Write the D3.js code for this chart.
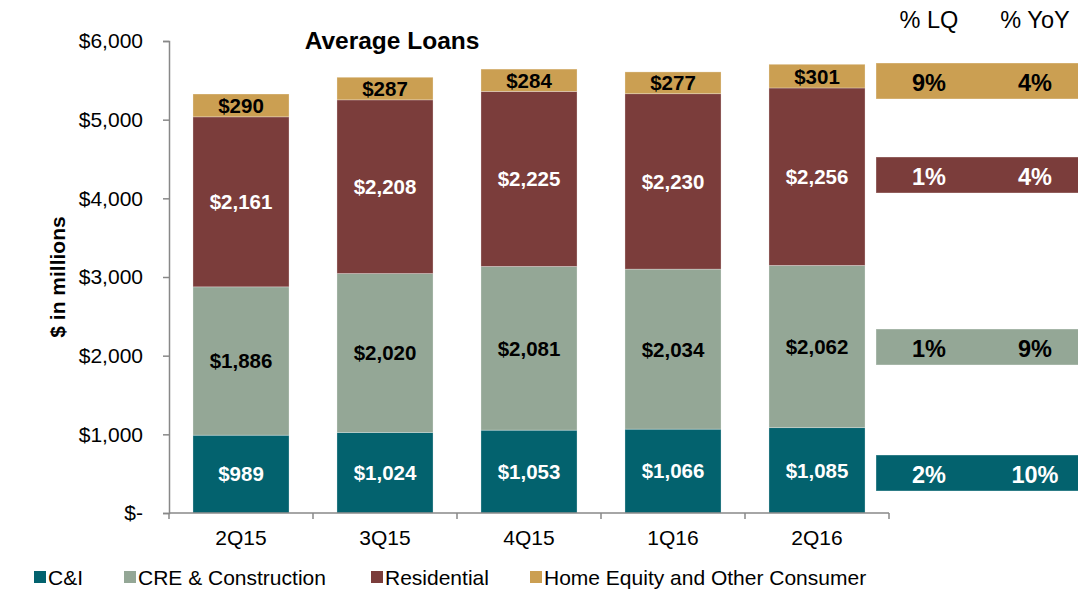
<!DOCTYPE html>
<html>
<head>
<meta charset="utf-8">
<script src="https://cdn.jsdelivr.net/npm/d3@7"></script>
<style>
  body { margin: 0; background: #fff; }
  svg { font-family: "Liberation Sans", Arial, sans-serif; }
</style>
</head>
<body>
<div id="chart"></div>
<script>
// Données
const quarters = ['2Q15', '3Q15', '4Q15', '1Q16', '2Q16'];
const cni = [989, 1024, 1053, 1066, 1085];
const cre = [1886, 2020, 2081, 2034, 2062];
const residential = [2161, 2208, 2225, 2230, 2256];
const homeEquity = [290, 287, 284, 277, 301];
const seriesNames = ['C&I', 'CRE & Construction', 'Residential', 'Home Equity and Other Consumer'];
const seriesColors = ['#03626e', '#94a796', '#7b3d3b', '#cb9f52'];
const labelColors = ['#fff', '#000', '#fff', '#000'];
const yTicks = [0, 1000, 2000, 3000, 4000, 5000, 6000];
const pctLQ = ['2%', '1%', '1%', '9%'];
const pctYoY = ['10%', '9%', '4%', '4%'];
const pctHeaders = ['% LQ', '% YoY'];

const width = 1078, height = 589;
const keys = ['cni', 'cre', 'res', 'he'];
const data = quarters.map((q, i) => ({ q, cni: cni[i], cre: cre[i], res: residential[i], he: homeEquity[i] }));

const svg = d3.select('#chart').append('svg')
  .attr('width', width).attr('height', height);

const x = d3.scaleBand().domain(quarters).range([169, 889]).paddingInner(0.333).paddingOuter(0.1665);
const y = d3.scaleLinear().domain([0, 6000]).range([513, 41]);
const color = d3.scaleOrdinal().domain(keys).range(seriesColors);

const stacked = d3.stack().keys(keys)(data);

// Barres
const serie = svg.selectAll('g.serie')
  .data(stacked)
  .enter().append('g')
  .attr('class', 'serie')
  .attr('fill', d => color(d.key));

serie.selectAll('rect')
  .data(d => d)
  .enter().append('rect')
  .attr('x', d => x(d.data.q))
  .attr('y', d => y(d[1]))
  .attr('width', x.bandwidth())
  .attr('height', d => y(d[0]) - y(d[1]))
  .attr('stroke', 'rgba(255,255,255,0.35)')
  .attr('stroke-width', 0.8);

// Etiquettes
stacked.forEach((s, si) => {
  svg.append('g').selectAll('text')
    .data(s)
    .enter().append('text')
    .attr('x', d => x(d.data.q) + x.bandwidth() / 2)
    .attr('y', d => (y(d[0]) + y(d[1])) / 2)
    .attr('dy', '0.36em')
    .attr('text-anchor', 'middle')
    .attr('font-weight', 'bold')
    .attr('font-size', 20.5)
    .attr('fill', labelColors[si])
    .text(d => '$' + d3.format(',')(d[1] - d[0]));
});

// Axes
const fmt = v => v === 0 ? '$-' : '$' + d3.format(',')(v);
const yAxis = svg.append('g')
  .attr('transform', 'translate(169,0)')
  .call(d3.axisLeft(y).tickValues(yTicks).tickFormat(fmt).tickSize(6).tickPadding(20));
yAxis.select('.domain').attr('stroke', '#888').attr('stroke-width', 1.5);
yAxis.selectAll('.tick line').attr('stroke', '#888').attr('stroke-width', 1.5);
yAxis.selectAll('.tick text').attr('font-size', 21).attr('fill', '#000')
  .style('font-family', '"Liberation Sans", Arial, sans-serif');

const bounds = quarters.map(q => x(q) - x.step() * x.paddingInner() / 2).concat([889]);
const xAxis = svg.append('g');
xAxis.append('line').attr('x1', 169).attr('x2', 889).attr('y1', 513).attr('y2', 513)
  .attr('stroke', '#888').attr('stroke-width', 1.5);
xAxis.selectAll('line.tk').data(bounds).enter().append('line')
  .attr('class', 'tk')
  .attr('x1', d => d).attr('x2', d => d).attr('y1', 513).attr('y2', 519)
  .attr('stroke', '#888').attr('stroke-width', 1.5);
xAxis.selectAll('text').data(quarters).enter().append('text')
  .attr('x', d => x(d) + x.bandwidth() / 2)
  .attr('y', 545)
  .attr('text-anchor', 'middle')
  .attr('font-size', 21)
  .text(d => d);

// Titre axe Y
svg.append('text')
  .attr('transform', 'translate(65,277) rotate(-90)')
  .attr('text-anchor', 'middle')
  .attr('font-weight', 'bold')
  .attr('font-size', 21)
  .text('$ in millions');

// Titre
svg.append('text')
  .attr('x', 392).attr('y', 49)
  .attr('text-anchor', 'middle')
  .attr('font-weight', 'bold')
  .attr('font-size', 24.5)
  .text('Average Loans');

// Boîtes de variation, alignées sur le dernier trimestre
const boxY = [455, 329, 157, 63];
const boxH = 36;
const colX = [929, 1035];
svg.append('g').selectAll('text')
  .data(pctHeaders)
  .enter().append('text')
  .attr('x', (d, i) => colX[i])
  .attr('y', 28)
  .attr('text-anchor', 'middle')
  .attr('font-size', 23.5)
  .text(d => d);

const boxes = svg.append('g').selectAll('g')
  .data(keys)
  .enter().append('g');
boxes.append('rect')
  .attr('x', 876).attr('y', (d, i) => boxY[i])
  .attr('width', 210).attr('height', boxH)
  .attr('fill', d => color(d))
  .attr('stroke', 'rgba(255,255,255,0.35)');
boxes.append('text')
  .attr('x', colX[0]).attr('y', (d, i) => boxY[i] + boxH / 2 + 2)
  .attr('dy', '0.36em').attr('text-anchor', 'middle')
  .attr('font-weight', 'bold').attr('font-size', 23.5)
  .attr('fill', (d, i) => labelColors[i])
  .text((d, i) => pctLQ[i]);
boxes.append('text')
  .attr('x', colX[1]).attr('y', (d, i) => boxY[i] + boxH / 2 + 2)
  .attr('dy', '0.36em').attr('text-anchor', 'middle')
  .attr('font-weight', 'bold').attr('font-size', 23.5)
  .attr('fill', (d, i) => labelColors[i])
  .text((d, i) => pctYoY[i]);

// Légende
const legendX = [34, 124, 371, 530];
const legend = svg.append('g').selectAll('g')
  .data(seriesNames)
  .enter().append('g')
  .attr('transform', (d, i) => `translate(${legendX[i]},577)`);
legend.append('rect')
  .attr('x', 0).attr('y', -6).attr('width', 12).attr('height', 12)
  .attr('fill', (d, i) => seriesColors[i]);
legend.append('text')
  .attr('x', 14).attr('y', 0).attr('dy', '0.36em')
  .attr('font-size', 21)
  .text(d => d);
</script>
</body>
</html>
